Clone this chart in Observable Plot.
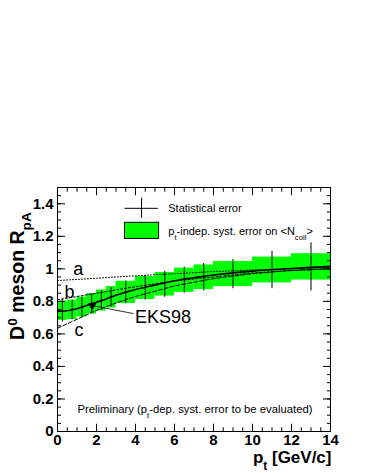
<!DOCTYPE html>
<html><head><meta charset="utf-8">
<script src="https://cdn.jsdelivr.net/npm/d3@7"></script>
<script src="https://cdn.jsdelivr.net/npm/@observablehq/plot@0.6"></script>
<style>body{margin:0;background:#fff} svg{display:block}</style>
</head><body>
<div id="chart"></div>
<script>
// ---- data ----
const ptLo  = [0, 0.5, 1, 1.5, 2, 2.5, 3, 4, 5, 6, 7, 8, 10, 12];
const ptHi  = [0.5, 1, 1.5, 2, 2.5, 3, 4, 5, 6, 7, 8, 10, 12, 14];
const ptMid = [0.25, 0.75, 1.25, 1.75, 2.25, 2.75, 3.5, 4.5, 5.5, 6.5, 7.5, 9, 11, 13];
const rpa   = [0.742, 0.748, 0.765, 0.785, 0.805, 0.825, 0.855, 0.882, 0.905, 0.93, 0.948, 0.968, 0.993, 1.012];
const statErr = [0.07, 0.06, 0.06, 0.06, 0.06, 0.06, 0.07, 0.075, 0.08, 0.08, 0.085, 0.09, 0.115, 0.148];
const systRel = 0.08; // pt-independent relative systematic error

const curveX = [0, 0.5, 1, 1.5, 2, 2.5, 3, 4, 5, 6, 7, 8, 10, 12, 14];
const curveY = [0.74, 0.742, 0.755, 0.775, 0.795, 0.815, 0.838, 0.873, 0.9, 0.927, 0.946, 0.962, 0.986, 1.002, 1.015];

const eksX = [0, 1, 2, 3, 4, 6, 8, 10, 12, 14];
const eksA = [0.928, 0.935, 0.942, 0.95, 0.957, 0.97, 0.983, 0.993, 1.0, 1.008];
const eksB = [0.81, 0.83, 0.85, 0.87, 0.89, 0.925, 0.95, 0.975, 0.99, 1.0];
const eksC = [0.635, 0.69, 0.745, 0.79, 0.83, 0.895, 0.94, 0.97, 0.99, 1.0];

const xTicks = [0, 2, 4, 6, 8, 10, 12, 14];
const xTickLabels = ["0", "2", "4", "6", "8", "10", "12", "14"];
const yTicks = [0, 0.2, 0.4, 0.6, 0.8, 1, 1.2, 1.4];
const yTickLabels = ["0", "0.2", "0.4", "0.6", "0.8", "1", "1.2", "1.4"];

const curveLabels = [
  {x: 1.06, y: 1.0, text: "a"},
  {x: 0.62, y: 0.855, text: "b"},
  {x: 1.1, y: 0.62, text: "c"}
];
const eksLabel = [{x: 3.97, y: 0.70, text: "EKS98"}];
const eksArrow = [{x1: 3.9, y1: 0.725, x2: 1.85, y2: 0.772}];
const eksTip = [{x: 1.78, y: 0.775}];

const legendCross = [{x1: 3.46, x2: 5.17, y: 1.372, x: 4.31, y1: 1.31, y2: 1.434}];
const legendBox = [{x1: 3.46, x2: 5.21, y1: 1.184, y2: 1.283}];
const legendText = [
  {x: 5.68, y: 1.372, text: "Statistical error"},
  {x: 5.68, y: 1.232, text: "p_{t}-indep. syst. error on <N_{coll}>"}
];
const prelimText = [{x: 7.05, y: 0.135, text: "Preliminary (p_{t}-dep. syst. error to be evaluated)"}];

const xTitle = "p_{t} [GeV/c]";
const yTitle = "D^{0} meson R_{pA}";

// ---- tables ----
const bins = ptLo.map((lo, i) => ({lo, hi: ptHi[i], sLo: rpa[i] * (1 - systRel), sHi: rpa[i] * (1 + systRel)}));
const points = ptMid.map((pt, i) => ({pt, v: rpa[i], lo: rpa[i] - statErr[i], hi: rpa[i] + statErr[i]}));
const central = curveX.map((x, i) => ({x, y: curveY[i]}));
const mk = ys => eksX.map((x, i) => ({x, y: ys[i]}));

const FONT = "'Liberation Sans', Arial, Helvetica, sans-serif";
const xMinor = d3.range(0, 14.001, 0.5);
const yMinor = d3.range(0, 1.5001, 0.05);

const tickAx = (anchor, ticks, size) => (anchor === "left" || anchor === "right")
  ? Plot.axisY({anchor, ticks, tickSize: -size, fill: "none", label: null, stroke: "black"})
  : Plot.axisX({anchor, ticks, tickSize: -size, fill: "none", label: null, stroke: "black"});

const chart = Plot.plot({
  width: 366, height: 473,
  marginLeft: 57, marginRight: 36, marginTop: 187, marginBottom: 42,
  style: {fontFamily: FONT, background: "white", color: "black", overflow: "visible"},
  x: {domain: [0, 14]},
  y: {domain: [0, 1.5]},
  marks: [
    Plot.rect(bins, {x1: "lo", x2: "hi", y1: "sLo", y2: "sHi", fill: "#00ff00"}),
    Plot.line(mk(eksA), {x: "x", y: "y", stroke: "black", strokeWidth: 1, strokeDasharray: "1,2"}),
    Plot.line(mk(eksB), {x: "x", y: "y", stroke: "black", strokeWidth: 1, strokeDasharray: "2,2"}),
    Plot.line(mk(eksC), {x: "x", y: "y", stroke: "black", strokeWidth: 1, strokeDasharray: "4,2"}),
    Plot.line(central, {x: "x", y: "y", stroke: "black", strokeWidth: 1.6, curve: "catmull-rom"}),
    Plot.ruleX(points, {x: "pt", y1: "lo", y2: "hi", stroke: "black", strokeWidth: 1}),
    // EKS98 annotation
    Plot.link(eksArrow, {x1: "x1", y1: "y1", x2: "x2", y2: "y2", stroke: "#333", strokeWidth: 1}),
    Plot.dot(eksTip, {x: "x", y: "y", symbol: "triangle", r: 3.2, fill: "black", rotate: 180}),
    Plot.text(eksLabel, {x: "x", y: "y", text: "text", textAnchor: "start", fontSize: 18}),
    Plot.text(curveLabels, {x: "x", y: "y", text: "text", fontSize: 18}),
    // legend
    Plot.rect(legendBox, {x1: "x1", x2: "x2", y1: "y1", y2: "y2", fill: "#00ff00", stroke: "black", strokeWidth: 1}),
    Plot.ruleY(legendCross, {y: "y", x1: "x1", x2: "x2", stroke: "black"}),
    Plot.ruleX(legendCross, {x: "x", y1: "y1", y2: "y2", stroke: "black"}),
    Plot.text(legendText, {x: "x", y: "y", text: "text", textAnchor: "start", fontSize: 11}),
    Plot.text(prelimText, {x: "x", y: "y", text: "text", fontSize: 11.3}),
    // frame & axes
    Plot.frame({stroke: "black"}),
    tickAx("left", yTicks, 8), tickAx("left", yMinor, 4),
    tickAx("right", yTicks, 8), tickAx("right", yMinor, 4),
    tickAx("bottom", xTicks, 7.3), tickAx("bottom", xMinor, 3.7),
    tickAx("top", xTicks, 7.3), tickAx("top", xMinor, 3.7),
    Plot.axisY({ticks: yTicks, tickSize: 0, tickPadding: 4, tickFormat: (d, i) => yTickLabels[i], label: null, fontSize: 15, fontWeight: "bold"}),
    Plot.axisX({ticks: xTicks, tickSize: 0, tickPadding: 3, tickFormat: (d, i) => xTickLabels[i], label: null, fontSize: 15, fontWeight: "bold"}),
    Plot.text([xTitle], {frameAnchor: "bottom-right", text: d => d, textAnchor: "end", dx: 1, dy: 31, fontSize: 17, fontWeight: "bold"}),
    Plot.text([yTitle], {frameAnchor: "top-left", text: d => d, textAnchor: "middle", rotate: -90, dx: -41, dy: 77, fontSize: 19.5, fontWeight: "bold"})
  ]
});
document.getElementById("chart").appendChild(chart);

// rich text: ROOT-like ^{} and _{} markup -> tspans
const NS = "http://www.w3.org/2000/svg";
let yTitleEl = null;
d3.select(chart).selectAll("text").each(function() {
  const s = this.textContent;
  if (!/[\^_]\{/.test(s)) return;
  if (s === yTitle) yTitleEl = this;
  this.textContent = "";
  const re = /([\^_])\{([^}]*)\}/g;
  let last = 0, m;
  const add = (txt, shift) => {
    if (!txt) return;
    const ts = document.createElementNS(NS, "tspan");
    ts.textContent = txt;
    if (shift) { ts.setAttribute("baseline-shift", shift); ts.style.fontSize = "0.7em"; }
    this.appendChild(ts);
  };
  while ((m = re.exec(s))) {
    add(s.slice(last, m.index));
    add(m[2], m[1] === "^" ? "super" : "sub");
    last = re.lastIndex;
  }
  add(s.slice(last));
});

// centre the rotated y title where the reference has it (x ≈ 19, y ≈ 276)
if (yTitleEl) {
  const sr = chart.getBoundingClientRect();
  const r = yTitleEl.getBoundingClientRect();
  const cx = (r.left + r.right) / 2 - sr.left;
  const cy = (r.top + r.bottom) / 2 - sr.top;
  yTitleEl.setAttribute("transform", `translate(${19 - cx},${276 - cy}) ` + (yTitleEl.getAttribute("transform") || ""));
}
</script></body></html>
